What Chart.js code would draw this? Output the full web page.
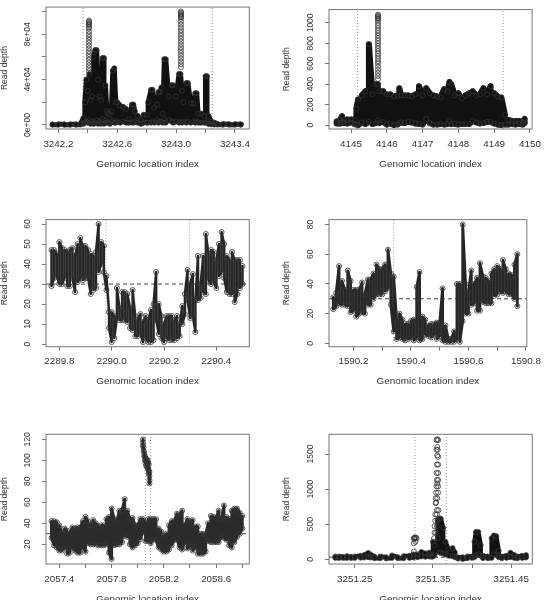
<!DOCTYPE html>
<html>
<head>
<meta charset="utf-8">
<script src="https://cdn.jsdelivr.net/npm/chart.js@4"></script>
<style>
html, body { margin: 0; padding: 0; background: #fff; overflow: hidden; }
canvas { position: absolute; filter: blur(0.35px); }
</style>
</head>
<body>
<script>
// panel 1
const p1_x = [3242.16,3242.20,3242.24,3242.28,3242.32,3242.35,3242.37,3242.38,3242.39,3242.40,
  3242.41,3242.42,3242.43,3242.44,3242.45,3242.46,3242.47,3242.48,3242.49,3242.50,
  3242.51,3242.52,3242.53,3242.54,3242.55,3242.56,3242.57,3242.58,3242.59,3242.60,
  3242.62,3242.64,3242.66,3242.68,3242.70,3242.71,3242.72,3242.74,3242.76,3242.78,
  3242.80,3242.81,3242.83,3242.84,3242.85,3242.87,3242.88,3242.89,3242.90,3242.91,
  3242.92,3242.93,3242.95,3242.97,3242.98,3243.00,3243.02,3243.03,3243.04,3243.05,
  3243.07,3243.08,3243.10,3243.12,3243.13,3243.14,3243.15,3243.17,3243.19,3243.20,
  3243.21,3243.22,3243.24,3243.26,3243.28,3243.32,3243.36,3243.40,3243.44];
const p1_hi = [500,500,500,500,500,1000,6000,20000,40000,30000,
  45000,22000,25000,60000,66000,66000,40000,25000,22000,59000,
  59000,35000,12000,10000,9000,12000,48000,50000,20000,20000,
  17000,16000,14000,5000,18000,18000,12000,8000,4000,9000,
  9000,20000,31000,31000,15000,18000,29000,29000,33000,10000,
  58000,58000,25000,35000,35000,25000,45000,45000,30000,20000,
  37000,37000,19000,19000,28000,28000,10000,10000,8000,43000,
  43000,8000,3000,2000,1000,800,700,700,600];
const p1_lo = [200,200,200,200,200,300,1000,2000,3000,2000,
  4000,1000,3000,1000,2000,4000,1000,3000,1000,5000,
  1000,4000,2000,2000,1000,3000,4000,2000,2000,3000,
  2000,3000,2000,2000,2000,2000,3000,2000,1000,2000,
  2000,2000,2000,3000,2000,4000,2000,3000,3000,2000,
  5000,2000,4000,3000,2000,3000,2000,3000,2000,3000,
  2000,3000,2000,3000,2000,3000,2000,2000,2000,2000,
  3000,1000,500,300,300,200,200,200,200];
const p1_stack_x = [3242.408,3242.408,3242.408,3242.408,3242.408,3242.408,3242.408,3242.408,3242.408,3242.408,3242.408,3242.408,3242.408,3242.408,3242.408,3242.408,3242.408,3242.408,3242.408,3242.408,3242.408,3242.408,3243.033,3243.033,3243.033,3243.033,3243.033,3243.033,3243.033,3243.033,3243.033,3243.033,3243.033,3243.033,3243.033,3243.033,3243.033,3243.033,3243.033,3243.033,3243.033,3243.033,3243.033,3243.033,3243.033,3243.033];
const p1_stack_y = [92000,91000,90000,89000,88000,86500,85000,82500,80000,77500,75000,72500,70000,67500,65000,62500,60000,57500,55000,52500,50000,47500,100000,99000,98000,97000,96000,95000,93500,91000,88500,86000,83500,81000,78500,76000,73500,71000,68500,66000,63500,61000,58500,56000,53500,51000];
const p1_vlines = [3242.368, 3243.246];
const p1_xticks = [3242.2,3242.4,3242.6,3242.8,3243.0,3243.2,3243.4];
const p1_xlabels = ['3242.2','','3242.6','','3243.0','','3243.4'];
const p1_yticks = [0,20000,40000,60000,80000,100000];
const p1_ylabels = ['0e+00','','4e+04','','8e+04',''];

// panel 2
const p2_x = [4144.6,4144.7,4144.75,4144.8,4144.9,4145.0,4145.1,4145.15,4145.2,4145.3,
  4145.4,4145.5,4145.6,4145.7,4145.75,4145.8,4145.9,4146.0,4146.1,4146.2,
  4146.3,4146.35,4146.4,4146.5,4146.6,4146.7,4146.8,4146.9,4147.0,4147.1,
  4147.2,4147.3,4147.4,4147.5,4147.6,4147.7,4147.75,4147.8,4147.9,4148.0,
  4148.1,4148.2,4148.3,4148.4,4148.5,4148.6,4148.7,4148.8,4148.9,4149.0,
  4149.1,4149.2,4149.3,4149.4,4149.5,4149.6,4149.7,4149.8,4149.85];
const p2_hi = [35,55,85,50,55,55,50,160,250,290,
  330,790,300,400,400,330,330,300,300,280,
  290,360,290,290,290,280,300,380,290,360,
  310,290,280,270,350,330,420,400,290,310,
  260,290,310,330,290,300,360,300,380,310,
  280,270,100,50,40,40,40,30,60];
const p2_lo = [15,15,30,20,15,25,10,5,0,25,
  10,30,10,20,45,20,30,5,15,0,
  5,20,25,20,30,25,15,10,5,60,
  20,5,5,10,5,10,40,10,10,5,
  10,10,10,40,25,15,20,30,30,15,
  5,0,5,5,10,5,10,5,20];
const p2_stack_x = [4145.754,4145.754,4145.754,4145.754,4145.754,4145.754,4145.754,4145.754,4145.754,4145.754,4145.754,4145.754,4145.754,4145.754,4145.754,4145.754,4145.754,4145.754,4145.754,4145.754,4145.754,4145.754,4145.754,4145.754,4145.754,4145.754,4145.754,4145.754];
const p2_stack_y = [1080,1070,1060,1050,1040,1025,1000,975,950,925,900,875,850,825,800,775,750,725,700,675,650,625,600,570,540,510,480,450];
const p2_vlines = [4145.18, 4149.25];
const p2_xticks = [4145,4146,4147,4148,4149,4150];
const p2_xlabels = ['4145','4146','4147','4148','4149','4150'];
const p2_yticks = [0,200,400,600,800,1000];
const p2_ylabels = ['0','200','400','600','800','1000'];

// panel 3
const p3_x = [2289.77,2289.78,2289.79,2289.80,2289.81,2289.82,2289.83,2289.84,2289.85,2289.86,
  2289.87,2289.88,2289.89,2289.90,2289.91,2289.92,2289.93,2289.94,2289.95,2289.96,
  2289.97,2289.98,2289.99,2290.00,2290.01,2290.02,2290.03,2290.04,2290.05,2290.06,
  2290.07,2290.08,2290.09,2290.10,2290.11,2290.12,2290.13,2290.14,2290.15,2290.16,
  2290.17,2290.18,2290.19,2290.20,2290.21,2290.22,2290.23,2290.24,2290.25,2290.26,
  2290.27,2290.28,2290.29,2290.30,2290.31,2290.32,2290.33,2290.34,2290.35,2290.36,
  2290.37,2290.38,2290.39,2290.40,2290.41,2290.42,2290.43,2290.44,2290.45,2290.46,
  2290.47,2290.48,2290.49,2290.50];
const p3_hi = [47,47,45,51,48,47,46,47,48,44,
  50,53,49,49,47,45,44,46,60,51,
  49,34,16,16,14,28,18,26,26,25,
  18,27,14,12,15,11,14,12,17,20,
  36,20,14,10,14,14,14,12,14,10,
  19,25,37,30,35,22,44,30,44,55,
  45,47,46,42,50,56,50,44,42,46,
  42,42,42,39];
const p3_lo = [29,33,34,30,30,33,29,29,33,26,
  31,33,32,33,33,25,27,28,36,40,
  36,27,8,1,3,13,12,12,12,11,
  8,7,4,4,5,1,3,1,1,2,
  12,5,3,1,3,2,2,2,3,4,
  10,15,22,13,14,6,22,23,26,25,
  32,30,31,28,34,36,33,26,25,25,
  21,25,28,30];
const p3_vlines = [2289.978, 2290.297];
const p3_hlines = [30];
const p3_xticks = [2289.8,2290.0,2290.2,2290.4];
const p3_xlabels = ['2289.8','2290.0','2290.2','2290.4'];
const p3_yticks = [0,10,20,30,40,50,60];
const p3_ylabels = ['0','10','20','30','40','50','60'];

// panel 4
const p4_x = [1590.13,1590.14,1590.15,1590.16,1590.17,1590.18,1590.19,1590.20,1590.21,1590.22,
  1590.23,1590.24,1590.25,1590.26,1590.27,1590.28,1590.29,1590.30,1590.31,1590.32,
  1590.33,1590.34,1590.35,1590.36,1590.37,1590.38,1590.39,1590.40,1590.41,1590.42,
  1590.43,1590.44,1590.45,1590.46,1590.47,1590.48,1590.49,1590.50,1590.51,1590.52,
  1590.53,1590.54,1590.55,1590.56,1590.57,1590.58,1590.59,1590.60,1590.61,1590.62,
  1590.63,1590.64,1590.65,1590.66,1590.67,1590.68,1590.69,1590.70,1590.71,1590.72,
  1590.73,1590.74,1590.75,1590.76,1590.77];
const p4_hi = [31,34,52,42,36,49,42,36,36,36,
  41,33,43,43,47,53,50,50,53,63,
  47,45,16,20,16,13,13,15,16,38,
  48,18,16,12,13,13,14,14,37,12,
  3,3,8,40,40,80,40,35,49,40,
  44,54,45,44,42,47,50,52,50,56,
  50,47,46,53,60];
const p4_lo = [23,25,27,26,26,25,21,22,18,20,
  21,20,26,26,30,33,33,33,35,37,
  26,8,3,4,3,2,3,4,2,4,
  2,3,6,5,4,6,3,5,2,1,
  1,1,1,3,1,15,20,20,26,27,
  22,22,28,27,27,27,32,33,35,34,
  35,33,33,30,25];
const p4_vlines = [1590.34];
const p4_hlines = [30];
const p4_xticks = [1590.2,1590.3,1590.4,1590.5,1590.6,1590.7,1590.8];
const p4_xlabels = ['1590.2','','1590.4','','1590.6','','1590.8'];
const p4_yticks = [0,20,40,60,80];
const p4_ylabels = ['0','20','40','60','80'];

// panel 5
const p5_x = [2057.34,2057.36,2057.38,2057.40,2057.42,2057.44,2057.46,2057.48,2057.50,2057.52,
  2057.54,2057.56,2057.58,2057.60,2057.62,2057.64,2057.66,2057.68,2057.70,2057.72,
  2057.74,2057.76,2057.78,2057.80,2057.82,2057.84,2057.86,2057.88,2057.90,2057.92,
  2057.94,2057.96,2057.98,2058.00,2058.02,2058.04,2058.06,2058.08,2058.10,2058.12,
  2058.14,2058.16,2058.18,2058.20,2058.22,2058.24,2058.26,2058.28,2058.30,2058.32,
  2058.34,2058.36,2058.38,2058.40,2058.42,2058.44,2058.46,2058.48,2058.50,2058.52,
  2058.54,2058.56,2058.58,2058.60,2058.62,2058.64,2058.66,2058.68,2058.70,2058.72,
  2058.74,2058.76,2058.78,2058.80];
const p5_hi = [42,42,41,38,30,35,33,30,36,35,
  36,36,42,46,42,38,43,40,37,38,
  38,44,46,54,44,42,52,52,63,52,
  44,45,38,38,44,44,40,44,44,44,
  44,35,32,28,30,38,42,42,49,48,
  52,38,44,42,43,37,37,30,30,29,
  40,47,46,45,52,44,57,46,44,52,
  54,54,50,47];
const p5_lo = [26,19,17,14,14,17,11,12,17,14,
  12,12,17,13,21,20,20,20,19,19,
  19,20,12,6,19,20,20,22,28,27,
  20,17,19,21,25,32,23,23,21,25,
  24,17,15,13,13,15,19,24,25,17,
  15,22,16,18,14,17,11,11,11,13,
  23,22,22,22,22,27,26,24,19,17,
  22,27,30,35];
const p5_stack_x = [2058.04,2058.04,2058.04,2058.045,2058.045,2058.05,2058.05,2058.055,2058.055,2058.06,2058.06,2058.065,2058.065,2058.07,2058.07,2058.075,2058.075,2058.08,2058.08,2058.085,2058.085,2058.085,2058.09,2058.09,2058.09,2058.09];
const p5_stack_y = [120,117,114,112,109,107,104,104,100,102,97,100,95,101,94,100,93,98,92,96,90,87,89,85,81,78];
const p5_vlines = [2058.058, 2058.099];
const p5_hlines = [30];
const p5_xticks = [2057.4,2057.6,2057.8,2058.0,2058.2,2058.4,2058.6,2058.8];
const p5_xlabels = ['2057.4','','2057.8','','2058.2','','2058.6',''];
const p5_yticks = [20,40,60,80,100,120];
const p5_ylabels = ['20','40','60','80','100','120'];

// panel 6
const p6_x = [3251.225,3251.23,3251.235,3251.24,3251.245,3251.25,3251.2575,3251.262,3251.267,3251.27,
  3251.275,3251.2825,3251.29,3251.2975,3251.305,3251.3125,3251.32,3251.325,3251.33,3251.335,
  3251.34,3251.345,3251.348,3251.35,3251.352,3251.356,3251.358,3251.36,3251.363,3251.366,
  3251.37,3251.375,3251.378,3251.382,3251.388,3251.394,3251.40,3251.403,3251.405,3251.408,
  3251.411,3251.414,3251.42,3251.425,3251.428,3251.431,3251.434,3251.438,3251.444,3251.449,
  3251.454,3251.458,3251.464,3251.469];
const p6_hi = [40,40,35,45,35,40,50,60,90,70,
  40,40,30,55,30,45,50,70,70,105,
  85,95,70,250,200,560,580,580,450,250,
  140,160,100,30,30,40,40,250,390,390,
  200,50,40,300,340,330,120,40,50,95,
  60,40,50,60];
const p6_lo = [20,20,20,20,18,20,22,25,30,25,
  15,15,12,20,15,15,20,25,30,40,
  35,40,35,40,60,300,100,90,80,70,
  50,45,30,10,5,15,20,30,60,70,
  50,15,15,20,70,60,30,15,20,30,
  20,15,20,25];
const p6_stack_x = [3251.3255,3251.3265,3251.327,3251.328,3251.329,3251.326,3251.3255,3251.3275,3251.3255,3251.3545,3251.3555,3251.3565,3251.3555,3251.3545,3251.356,3251.3555,3251.3565,3251.355,3251.3565,3251.3545,3251.3565,3251.355,3251.3565,3251.3555,3251.3545,3251.3565,3251.354,3251.3565,3251.3535,3251.3555,3251.3535,3251.354,3251.355,3251.357,3251.353,3251.355,3251.353,3251.356,3251.352,3251.355,3251.352,3251.354,3251.3515];
const p6_stack_y = [300,310,305,310,300,290,230,250,110,1700,1710,1700,1600,1560,1560,1480,1460,1350,1350,1230,1230,1130,1130,1080,1040,1040,950,950,870,870,800,810,700,700,640,640,550,550,470,470,380,380,300];
const p6_vlines = [3251.327, 3251.367];
const p6_hlines = [30];
const p6_xticks = [3251.25,3251.30,3251.35,3251.40,3251.45];
const p6_xlabels = ['3251.25','','3251.35','','3251.45'];
const p6_yticks = [0,500,1000,1500];
const p6_ylabels = ['0','500','1000','1500'];

const panels = [
  { left: 0, top: 0, height: 180, boxLeft: 46, boxRight: 23.7, boxTop: 0.5, boxBottom: 129, titleGap: 0,
    xMin: 3242.116, xMax: 3243.4975, yMin: -3580, yMax: 103900, x: p1_x, hi: p1_hi, lo: p1_lo,
    stackX: p1_stack_x, stackY: p1_stack_y, vlines: p1_vlines, hlines: [], xticks: p1_xticks, xlabels: p1_xlabels,
    yticks: p1_yticks, ylabels: p1_ylabels, lineW: 5, lineC: '#111', stackW: 0, pad: 2 },
  { left: 273, top: 0, height: 180, boxLeft: 56, boxRight: 13.7, boxTop: 0.5, boxBottom: 129, titleGap: 9,
    xMin: 4144.385, xMax: 4150.06, yMin: -39, yMax: 1130, x: p2_x, hi: p2_hi, lo: p2_lo,
    stackX: p2_stack_x, stackY: p2_stack_y, vlines: p2_vlines, hlines: [], xticks: p2_xticks, xlabels: p2_xlabels,
    yticks: p2_yticks, ylabels: p2_ylabels, lineW: 6, lineC: '#111', stackW: 0, pad: 4.5 },
  { left: 0, top: 205, height: 180, boxLeft: 46, boxRight: 23.7, boxTop: 12.3, boxBottom: 141.7, titleGap: 0,
    xMin: 2289.749, xMax: 2290.526, yMin: -1.3, yMax: 62.2, x: p3_x, hi: p3_hi, lo: p3_lo,
    stackX: [], stackY: [], vlines: p3_vlines, hlines: p3_hlines, xticks: p3_xticks, xlabels: p3_xlabels,
    yticks: p3_yticks, ylabels: p3_ylabels, lineW: 2.5, lineC: '#262626', stackW: 0, pad: 9.5 },
  { left: 273, top: 205, height: 180, boxLeft: 56, boxRight: 13.7, boxTop: 12.3, boxBottom: 141.7, titleGap: 9,
    xMin: 1590.115, xMax: 1590.803, yMin: -2.25, yMax: 83.3, x: p4_x, hi: p4_hi, lo: p4_lo,
    stackX: [], stackY: [], vlines: p4_vlines, hlines: p4_hlines, xticks: p4_xticks, xlabels: p4_xlabels,
    yticks: p4_yticks, ylabels: p4_ylabels, lineW: 2.8, lineC: '#262626', stackW: 0, pad: 9.5 },
  { left: 0, top: 420, height: 185, boxLeft: 46, boxRight: 23.7, boxTop: 14.3, boxBottom: 144, titleGap: 0,
    xMin: 2057.298, xMax: 2058.854, yMin: 1.2, yMax: 124.8, x: p5_x, hi: p5_hi, lo: p5_lo,
    stackX: p5_stack_x, stackY: p5_stack_y, vlines: p5_vlines, hlines: p5_hlines, xticks: p5_xticks, xlabels: p5_xlabels,
    yticks: p5_yticks, ylabels: p5_ylabels, lineW: 3, lineC: '#2a2a2a', stackW: 3, pad: 7 },
  { left: 273, top: 420, height: 185, boxLeft: 56, boxRight: 13.7, boxTop: 14.3, boxBottom: 144, titleGap: 9,
    xMin: 3251.217, xMax: 3251.477, yMin: -67, yMax: 1781, x: p6_x, hi: p6_hi, lo: p6_lo,
    stackX: p6_stack_x, stackY: p6_stack_y, vlines: p6_vlines, hlines: p6_hlines, xticks: p6_xticks, xlabels: p6_xlabels,
    yticks: p6_yticks, ylabels: p6_ylabels, lineW: 4.5, lineC: '#111', stackW: 0, pad: 4.5 }
];

const boxPlugin = {
  id: 'box',
  afterDraw(chart) {
    const a = chart.chartArea, ctx = chart.ctx;
    ctx.save();
    ctx.strokeStyle = '#777';
    ctx.lineWidth = 1;
    ctx.strokeRect(a.left, a.top, a.right - a.left, a.bottom - a.top);
    ctx.restore();
  }
};

const ink = '#333';
const CIRCLE = { pointStyle: 'circle', pointRadius: 2.5, pointBorderWidth: 0.8,
  pointBackgroundColor: 'transparent', pointBorderColor: ink };

panels.forEach(p => {
  const c = document.createElement('canvas');
  c.width = 273;
  c.height = p.height;
  c.style.left = p.left + 'px';
  c.style.top = p.top + 'px';
  document.body.appendChild(c);

  const datasets = [];
  datasets.push({ showLine: p.stackW > 0, borderWidth: p.stackW, borderColor: p.lineC, borderJoinStyle: 'round',
    ...CIRCLE, data: p.stackX.map((x, i) => ({ x, y: p.stackY[i] })) });
  // body of each track: zigzag through the read high/low of every column
  datasets.push({ showLine: true, borderColor: p.lineC, borderWidth: p.lineW,
    borderJoinStyle: 'round', borderCapStyle: 'round', ...CIRCLE,
    data: p.x.flatMap((x, i) => i % 2 ? [{ x, y: p.lo[i] }, { x, y: p.hi[i] }] : [{ x, y: p.hi[i] }, { x, y: p.lo[i] }]) });
  // reference lines sit under the points, so they go last
  p.vlines.forEach(v => datasets.push({ showLine: true, pointRadius: 0, borderColor: '#999', borderWidth: 1,
    borderDash: [1, 2], data: [{ x: v, y: p.yMin }, { x: v, y: p.yMax }] }));
  p.hlines.forEach(v => datasets.push({ showLine: true, pointRadius: 0, borderColor: '#444', borderWidth: 1,
    borderDash: [4, 3], data: [{ x: p.xMin, y: v }, { x: p.xMax, y: v }] }));

  new Chart(c, {
    type: 'scatter',
    data: { datasets },
    plugins: [boxPlugin],
    options: {
      responsive: false,
      animation: false,
      layout: { padding: { top: p.boxTop, right: p.boxRight, left: 0, bottom: 0 } },
      plugins: { legend: { display: false }, tooltip: { enabled: false } },
      scales: {
        x: {
          type: 'linear', min: p.xMin, max: p.xMax,
          afterBuildTicks: s => { s.ticks = p.xticks.map(value => ({ value })); },
          afterFit: s => { s.height = p.height - p.boxBottom; },
          grid: { drawOnChartArea: false, tickLength: 4, tickColor: '#777' },
          border: { display: false },
          ticks: { autoSkip: false, maxRotation: 0, minRotation: 0, padding: 5, color: '#333',
            font: { family: 'Liberation Sans', size: 9.8 }, callback: (v, i) => p.xlabels[i] },
          title: { display: true, text: 'Genomic location index', color: '#333',
            font: { family: 'Liberation Sans', size: 9.9 }, padding: { top: 0, bottom: p.height - p.boxBottom - 41 } }
        },
        y: {
          type: 'linear', min: p.yMin, max: p.yMax,
          afterBuildTicks: s => { s.ticks = p.yticks.map(value => ({ value })); },
          afterFit: s => { s.width = p.boxLeft; },
          grid: { drawOnChartArea: false, tickLength: 4, tickColor: '#777' },
          border: { display: false },
          ticks: { autoSkip: false, minRotation: 90, maxRotation: 90, crossAlign: 'center', padding: p.pad, color: '#333',
            font: { family: 'Liberation Sans', size: 8.5 }, callback: (v, i) => p.ylabels[i] },
          title: { display: true, text: 'Read depth', color: '#333',
            font: { family: 'Liberation Sans', size: 8.5 }, padding: { top: p.titleGap, bottom: 0 } }
        }
      }
    }
  });
});
</script>
</body>
</html>
